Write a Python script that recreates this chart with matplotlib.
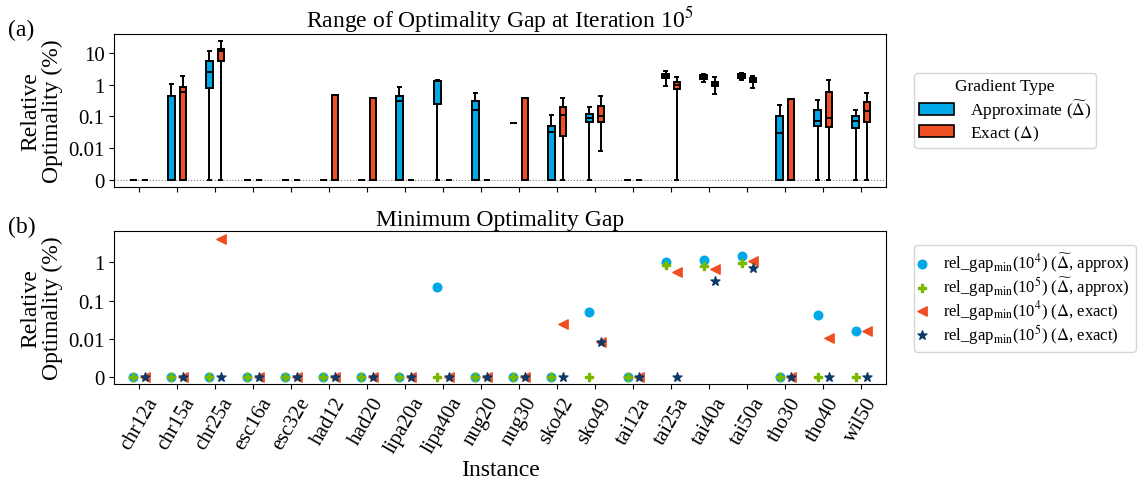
import matplotlib
matplotlib.use("Agg")
import matplotlib.pyplot as plt
from matplotlib.patches import Patch
from matplotlib.ticker import NullLocator
import numpy as np

plt.rcParams['font.family'] = ['Liberation Serif', 'DejaVu Serif']
plt.rcParams['mathtext.fontset'] = 'stix'

instances = ['chr12a', 'chr15a', 'chr25a', 'esc16a', 'esc32e', 'had12', 'had20',
             'lipa20a', 'lipa40a', 'nug20', 'nug30', 'sko42', 'sko49', 'tai12a',
             'tai25a', 'tai40a', 'tai50a', 'tho30', 'tho40', 'wil50']

# box statistics (relative optimality gap, %) at iteration 1e5
approx_q1 = [0, 0, 0.77, 0, 0, 0, 0, 0, 0.243, 0, 0.063, 0, 0.0666, 0, 1.58, 1.50, 1.65, 0, 0.051, 0.044]
approx_med = [0, 0.44, 2.43, 0, 0, 0, 0, 0.30, 1.25, 0.158, 0.063, 0.0316, 0.091, 0, 1.87, 1.74, 1.9, 0.0294, 0.0698, 0.0698]
approx_q3 = [0, 0.44, 5.5, 0, 0, 0, 0, 0.45, 1.30, 0.31, 0.063, 0.05, 0.118, 0, 2.19, 1.96, 2.1, 0.1, 0.158, 0.1]
approx_lo = [0, 0, 0, 0, 0, 0, 0, 0, 0, 0, 0.063, 0, 0, 0, 0.87, 1.21, 1.37, 0, 0, 0]
approx_hi = [0, 1.07, 11.3, 0, 0, 0, 0, 0.845, 1.40, 0.55, 0.063, 0.112, 0.195, 0, 2.67, 2.2, 2.37, 0.237, 0.324, 0.158]

exact_q1 = [0, 0, 5.6, 0, 0, 0, 0, 0, 0, 0, 0, 0.0249, 0.068, 0, 0.715, 0.87, 1.21, 0, 0.0475, 0.065]
exact_med = [0, 0.58, 11, 0, 0, 0.47, 0.37, 0, 0, 0, 0.38, 0.112, 0.1, 0, 1.0, 1.05, 1.42, 0.365, 0.093, 0.147]
exact_q3 = [0, 0.85, 12.7, 0, 0, 0.475, 0.374, 0, 0, 0, 0.38, 0.205, 0.215, 0, 1.24, 1.24, 1.58, 0.365, 0.603, 0.294]
exact_lo = [0, 0, 0, 0, 0, 0, 0, 0, 0, 0, 0, 0, 0.0093, 0, 0, 0.52, 0.805, 0, 0, 0]
exact_hi = [0, 1.87, 22.6, 0, 0, 0.475, 0.374, 0, 0, 0, 0.38, 0.38, 0.44, 0, 1.74, 1.74, 1.87, 0.365, 1.37, 0.535]

# minimum optimality gap
approx_min_1e4 = [0, 0, 0, 0, 0, 0, 0, 0, 0.232, 0, 0, 0, 0.051, 0, 1.04, 1.15, 1.49, 0, 0.0426, 0.0163]
approx_min_1e5 = [0, 0, 0, 0, 0, 0, 0, 0, 0, 0, 0, 0, 0, 0, 0.88, 0.80, 0.94, 0, 0, 0]
exact_min_1e4 = [0, 0, 4.03, 0, 0, 0, 0, 0, 0, 0, 0, 0.0248, 0.0093, 0, 0.547, 0.655, 1.10, 0, 0.0107, 0.0163]
exact_min_1e5 = [0, 0, 0, 0, 0, 0, 0, 0, 0, 0, 0, 0, 0.0093, 0, 0, 0.33, 0.72, 0, 0, 0]

c_blue = '#00A8E8'
c_red = '#F04E23'
c_green = '#7AB800'
c_navy = '#0B3A68'

x = np.arange(len(instances))
off = 0.15

fig = plt.figure(figsize=(11.46, 4.81), dpi=100)
ax1 = fig.add_axes([0.0998, 0.609, 0.6733, 0.318])
ax2 = fig.add_axes([0.0998, 0.1996, 0.6733, 0.318], sharex=ax1)


def make_stats(q1, med, q3, lo, hi):
    return [dict(q1=a, med=b, q3=c, whislo=d, whishi=e, fliers=[])
            for a, b, c, d, e in zip(q1, med, q3, lo, hi)]


lw = 1.4
for stats, pos, col in [
        (make_stats(approx_q1, approx_med, approx_q3, approx_lo, approx_hi), x - off, c_blue),
        (make_stats(exact_q1, exact_med, exact_q3, exact_lo, exact_hi), x + off, c_red)]:
    ax1.bxp(stats, positions=pos, widths=0.17, patch_artist=True, showfliers=False,
            manage_ticks=False,
            boxprops=dict(facecolor=col, edgecolor='black', linewidth=lw),
            medianprops=dict(color='black', linewidth=lw),
            whiskerprops=dict(color='black', linewidth=lw),
            capprops=dict(color='black', linewidth=lw),
            capwidths=0.08)

ax1.axhline(0, color='gray', linestyle=':', linewidth=0.8, zorder=0)
for ax in (ax1, ax2):
    ax.set_yscale('symlog', linthresh=0.01, linscale=0.9)
    ax.yaxis.set_minor_locator(NullLocator())
    ax.tick_params(labelsize=15)

ax1.set_yticks([0, 0.01, 0.1, 1, 10])
ax1.set_yticklabels(['0', '0.01', '0.1', '1', '10'])
ax1.set_ylim(-0.0021, 38)
ax1.tick_params(axis='x', labelbottom=False)
ax1.set_title('Range of Optimality Gap at Iteration 10$^5$', fontsize=17, pad=4)
ax1.set_ylabel('Relative\nOptimality (%)', fontsize=17, linespacing=1.0)

ax1.legend(handles=[Patch(facecolor=c_blue, edgecolor='black', linewidth=1.2,
                          label=r'Approximate ($\widetilde{\Delta}$)'),
                    Patch(facecolor=c_red, edgecolor='black', linewidth=1.2,
                          label=r'Exact ($\Delta$)')],
           title='Gradient Type', fontsize=12.5, title_fontsize=12.5,
           loc='center left', bbox_to_anchor=(0.7976, 0.768),
           bbox_transform=fig.transFigure, borderaxespad=0,
           labelspacing=0.15, handletextpad=0.9, borderpad=0.3)

# bottom panel
ax2.scatter(x - off, approx_min_1e4, marker='o', s=38, color=c_blue, zorder=3,
            label=r'rel_gap$_{\mathrm{min}}$(10$^4$) ($\widetilde{\Delta}$, approx)')
ax2.scatter(x - off, approx_min_1e5, marker='P', s=40, color=c_green, zorder=3,
            label=r'rel_gap$_{\mathrm{min}}$(10$^5$) ($\widetilde{\Delta}$, approx)')
ax2.scatter(x + off, exact_min_1e4, marker='<', s=45, color=c_red, zorder=3,
            label=r'rel_gap$_{\mathrm{min}}$(10$^4$) ($\Delta$, exact)')
ax2.scatter(x + off, exact_min_1e5, marker='*', s=45, color=c_navy, zorder=3,
            label=r'rel_gap$_{\mathrm{min}}$(10$^5$) ($\Delta$, exact)')

ax2.set_yticks([0, 0.01, 0.1, 1])
ax2.set_yticklabels(['0', '0.01', '0.1', '1'])
ax2.set_ylim(-0.0018, 6.6)
ax2.set_xticks(x)
ax2.set_xticklabels(instances, rotation=60, fontsize=15)
ax2.set_xlim(-0.65, len(instances) - 1 + 0.65)
ax2.set_title('Minimum Optimality Gap', fontsize=17, pad=4)
ax2.set_ylabel('Relative\nOptimality (%)', fontsize=17, linespacing=1.0)
ax2.set_xlabel('Instance', fontsize=17, labelpad=2)

ax2.legend(fontsize=12, loc='center left', bbox_to_anchor=(0.7976, 0.378),
           bbox_transform=fig.transFigure, borderaxespad=0,
           handlelength=0.3, borderpad=0.35, handletextpad=1.1, labelspacing=0.0)

fig.text(0.007, 0.925, '(a)', fontsize=17)
fig.text(0.007, 0.516, '(b)', fontsize=17)

fig.savefig('out.png', dpi=100)
